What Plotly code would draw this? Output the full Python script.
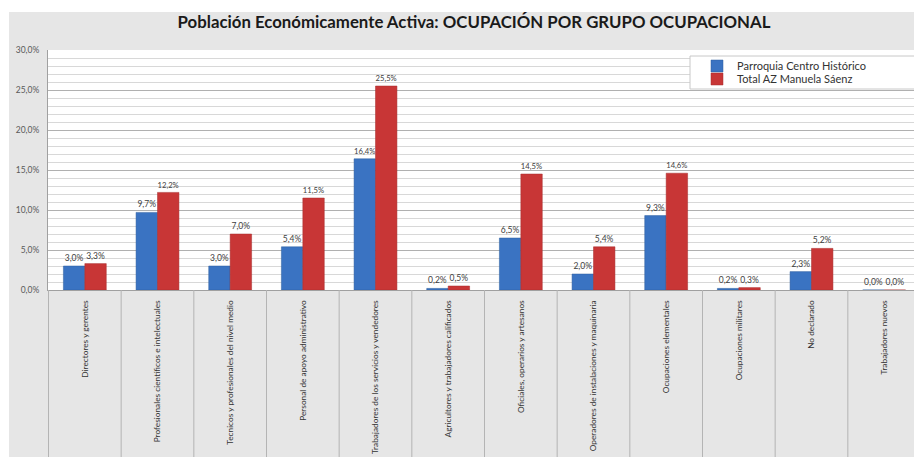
import plotly.graph_objects as go

# occupational groups (x axis)
categories = [
    "Directores y gerentes",
    "Profesionales científicos e intelectuales",
    "Tecnicos y profesionales del nivel medio",
    "Personal de apoyo administrativo",
    "Trabajadores de los servicios y vendedores",
    "Agricultores y trabajadores calificados",
    "Oficiales, operarios y artesanos",
    "Operadores de instalaciones y maquinaria",
    "Ocupaciones elementales",
    "Ocupaciones militares",
    "No declarado",
    "Trabajadores nuevos",
]

# percent of economically active population
centro_historico = [3.0, 9.7, 3.0, 5.4, 16.4, 0.2, 6.5, 2.0, 9.3, 0.2, 2.3, 0.0]
manuela_saenz = [3.3, 12.2, 7.0, 11.5, 25.5, 0.5, 14.5, 5.4, 14.6, 0.3, 5.2, 0.0]

series_names = ["Parroquia Centro Histórico", "Total AZ Manuela Sáenz"]
series_colors = ["#3a73c2", "#c83636"]
series_lines = ["#2f5f9f", "#a62c2c"]

W, H = 922, 457
OFF = 8  # page body margin, figure starts at (8, 8) in the window
# plot area in window pixels: x 48..921, y 50..290
M_L, M_T = 48 - OFF, 50 - OFF
M_R = W - (921 - OFF)
M_B = H - (290 - OFF)
plot_w = W - M_L - M_R
plot_h = H - M_T - M_B


def px_x(px):
    # window pixel -> paper x
    return (px - OFF - M_L) / plot_w


def px_y(py):
    # window pixel -> paper y
    return (H - M_B - (py - OFF)) / plot_h


fig = go.Figure()
legends = ["legend", "legend2"]
for name, vals, col, lcol, lg in zip(series_names, [centro_historico, manuela_saenz],
                                     series_colors, series_lines, legends):
    fig.add_trace(go.Bar(
        x=categories, y=vals, name=name, legend=lg,
        marker=dict(color=col, line=dict(color=lcol, width=0.5)),
        texttemplate="%{y:.1f}%", textposition="outside",
        textfont=dict(size=8.5, color="#404040"),
        cliponaxis=False,
    ))

shapes = [
    # white strips around the gray chart area
    dict(type="rect", xref="paper", yref="paper", x0=px_x(-20), x1=px_x(W + 20),
         y0=px_y(12), y1=px_y(-20), fillcolor="white", line_width=0, layer="below"),
    dict(type="rect", xref="paper", yref="paper", x0=px_x(-20), x1=px_x(9),
         y0=px_y(H + 20), y1=px_y(-20), fillcolor="white", line_width=0, layer="below"),
    # legend box
    dict(type="rect", xref="paper", yref="paper", x0=px_x(690), x1=px_x(W + 2),
         y0=px_y(89), y1=px_y(56), fillcolor="white", line=dict(color="#c8c8c8", width=1),
         layer="above"),
]
# category dividers below the axis
for i in range(len(categories) + 1):
    shapes.append(dict(type="line", xref="x", yref="paper", x0=i - 0.5, x1=i - 0.5,
                       y0=0, y1=px_y(H + 20), line=dict(color="#b4b4b4", width=1)))

legend_style = dict(xanchor="left", yanchor="middle", bgcolor="rgba(0,0,0,0)",
                    font=dict(size=11, color="#333333"), itemwidth=30)

fig.update_layout(
    width=W, height=H,
    margin=dict(l=M_L, r=M_R, t=M_T, b=M_B),
    paper_bgcolor="#e6e6e6", plot_bgcolor="white",
    font=dict(family="Lato, Open Sans, sans-serif", color="#404040"),
    separators=",.",
    title=dict(text="<b>Población Económicamente Activa: OCUPACIÓN POR GRUPO OCUPACIONAL</b>",
               x=px_x(474), xanchor="center", xref="paper",
               y=1 - (22 - OFF) / H, yanchor="middle",
               font=dict(size=16.8, color="#1a1a1a")),
    barmode="group", bargap=0.41, bargroupgap=0,
    showlegend=True,
    legend=dict(x=px_x(697), y=px_y(66), **legend_style),
    legend2=dict(x=px_x(697), y=px_y(79), **legend_style),
    shapes=shapes,
)
fig.update_yaxes(range=[0, 30], dtick=5, tickformat=".1f", ticksuffix="%",
                 tickfont=dict(size=8.5, color="#595959"),
                 showgrid=True, gridcolor="#b0b0b0", gridwidth=1,
                 minor=dict(dtick=1, showgrid=True, gridcolor="#d8d8d8", gridwidth=1),
                 showline=True, linecolor="#a0a0a0", linewidth=1,
                 zeroline=False, ticks="", ticklabelstandoff=6, fixedrange=True)
fig.update_xaxes(tickangle=-90, tickfont=dict(size=8.3, color="#333333"),
                 showline=True, linecolor="#a0a0a0", linewidth=1,
                 showgrid=False, ticks="", ticklabelstandoff=6, fixedrange=True)

fig.write_html("out.html")
